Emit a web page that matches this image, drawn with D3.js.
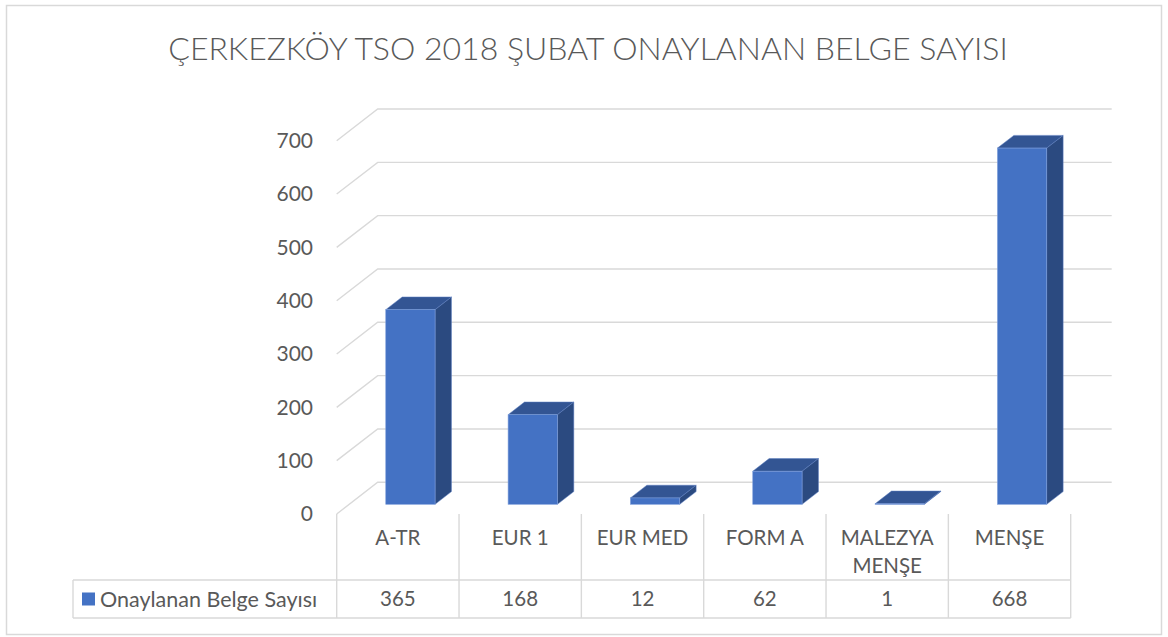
<!DOCTYPE html>
<html>
<head>
<meta charset="utf-8">
<script src="https://cdn.jsdelivr.net/npm/d3@7"></script>
<style>
  body { margin: 0; background: #fff; }
  svg text { font-family: Lato, "Open Sans", sans-serif; fill: #595959; }
</style>
</head>
<body>
<svg id="chart" width="1168" height="637"></svg>
<script>
const title = 'ÇERKEZKÖY TSO 2018 ŞUBAT ONAYLANAN BELGE SAYISI'
const seriesName = 'Onaylanan Belge Sayısı'
const categories = ['A-TR', 'EUR 1', 'EUR MED', 'FORM A', 'MALEZYA MENŞE', 'MENŞE']
const values = [365, 168, 12, 62, 1, 668]
const yTicks = [0, 100, 200, 300, 400, 500, 600, 700]

const svg = d3.select('#chart')

// outer chart border
svg.append('rect')
  .attr('x', 6.5).attr('y', 5.5)
  .attr('width', 1155).attr('height', 629)
  .attr('fill', 'none').attr('stroke', '#d9d9d9').attr('stroke-width', 1.5)

svg.append('text')
  .attr('x', 588).attr('y', 60)
  .attr('text-anchor', 'middle')
  .style('font-size', '32px').style('font-weight', 300)
  .text(title)

// front plane scales, depth vector goes back up-right
const x = d3.scaleBand().domain(categories).range([336.7, 1070.7])
const y = d3.scaleLinear().domain([0, 700]).range([514, 140.7])
const depth = {dx: 41, dy: -31.7}
const barDepth = [0.306, 0.706]
const barWidth = x.bandwidth() * 0.403

const grid = svg.append('g').attr('stroke', '#d9d9d9').attr('stroke-width', 1.4).attr('fill', 'none')
yTicks.forEach(t => {
  const x0 = x.range()[0], y0 = y(t)
  grid.append('path')
    .attr('d', `M${x0},${y0}L${x0 + depth.dx},${y0 + depth.dy}L${x.range()[1] + depth.dx},${y0 + depth.dy}`)
})

// y axis labels
const yAxis = svg.append('g')
  .attr('transform', 'translate(313,0)')
  .call(d3.axisLeft(y).tickValues(yTicks).tickSize(0).tickPadding(0))
yAxis.select('.domain').remove()
yAxis.selectAll('text')
  .attr('fill', '#595959')
  .style('font-size', '21px')
  .style('font-family', 'Lato, sans-serif')

// 3d bars
function shift (f) { return [depth.dx * f, depth.dy * f] }
const [fx, fy] = shift(barDepth[0])
const [bx, by] = shift(barDepth[1] - barDepth[0])

const bars = svg.append('g').selectAll('g')
  .data(categories.map((c, i) => ({c, v: values[i]})))
  .join('g')

bars.each(function (d) {
  const g = d3.select(this)
  const left = x(d.c) + x.bandwidth() / 2 - barWidth / 2 + fx
  const right = left + barWidth
  const bottom = y(0) + fy
  const top = y(d.v) + fy
  g.append('path') // top
    .attr('d', `M${left},${top}L${left + bx},${top + by}L${right + bx},${top + by}L${right},${top}Z`)
    .attr('fill', '#335593').attr('stroke', '#5b7cc0').attr('stroke-width', 0.5)
  g.append('path') // side
    .attr('d', `M${right},${top}L${right + bx},${top + by}L${right + bx},${bottom + by}L${right},${bottom}Z`)
    .attr('fill', '#2b4a80').attr('stroke', '#5b7cc0').attr('stroke-width', 0.5)
  g.append('rect') // front
    .attr('x', left).attr('y', top)
    .attr('width', barWidth).attr('height', bottom - top)
    .attr('fill', '#4472c4').attr('stroke', '#7f9fdb').attr('stroke-width', 0.6)
})

// category labels and data table
const tableTop = 580, tableBottom = 618, tableLeft = 73
const lines = svg.append('g').attr('stroke', '#d9d9d9').attr('stroke-width', 1.4)
const bounds = categories.map(c => x(c)).concat([x.range()[1]])
bounds.forEach(b => {
  lines.append('line').attr('x1', b).attr('x2', b).attr('y1', y(0)).attr('y2', tableBottom)
})
lines.append('line').attr('x1', tableLeft).attr('x2', x.range()[1]).attr('y1', tableTop).attr('y2', tableTop)
lines.append('line').attr('x1', tableLeft).attr('x2', x.range()[1]).attr('y1', tableBottom).attr('y2', tableBottom)
lines.append('line').attr('x1', tableLeft).attr('x2', tableLeft).attr('y1', tableTop).attr('y2', tableBottom)

const labels = svg.append('g').style('font-size', '20.5px').attr('text-anchor', 'middle')
categories.forEach(c => {
  const t = labels.append('text').attr('x', x(c) + x.bandwidth() / 2).attr('y', 538).attr('dy', '0.35em')
  t.text(c)
  if (t.node().getComputedTextLength() > x.bandwidth() - 10) {
    t.text(null)
    c.split(' ').forEach((w, i) => {
      t.append('tspan').attr('x', x(c) + x.bandwidth() / 2).attr('dy', i === 0 ? '0.35em' : 28).text(w)
    })
  }
})

const rowY = (tableTop + tableBottom) / 2
values.forEach((v, i) => {
  labels.append('text').attr('x', x(categories[i]) + x.bandwidth() / 2).attr('y', rowY).attr('dy', '0.35em').text(v)
})

svg.append('rect').attr('x', 82).attr('y', rowY - 6.5).attr('width', 13).attr('height', 13).attr('fill', '#4472c4')
svg.append('text').attr('x', 100).attr('y', rowY).attr('dy', '0.35em')
  .style('font-size', '21.5px').text(seriesName)
</script>
</body>
</html>
